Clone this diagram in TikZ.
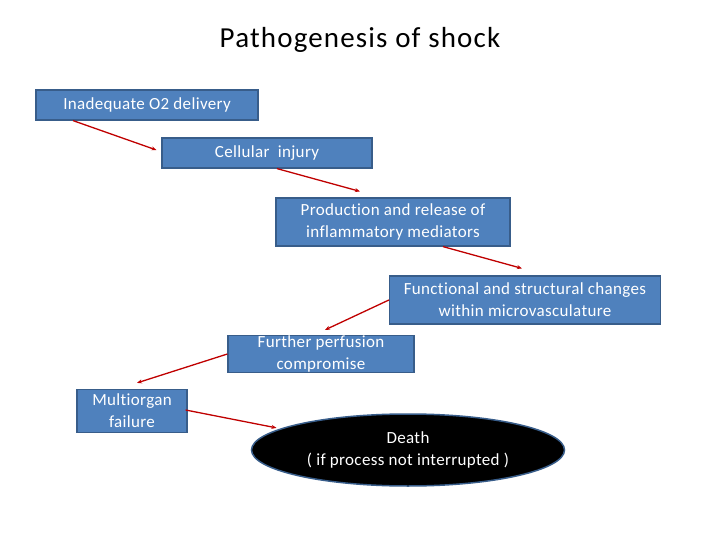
\documentclass[tikz,border=0pt]{standalone}
\usepackage{fontspec}
\setmainfont{Carlito}[Ligatures={NoCommon}]
\usetikzlibrary{shapes.geometric,arrows.meta}
\definecolor{boxfill}{HTML}{4F81BD}
\definecolor{boxline}{HTML}{385D8A}
\definecolor{arrred}{HTML}{C00000}
\begin{document}
\begin{tikzpicture}[x=1pt,y=-1pt,
  boxfont/.style={font=\fontsize{17}{22}\selectfont\addfontfeatures{LetterSpace=2}},
  box/.style={draw=boxline,fill=boxfill,line width=1.2pt,text=white,boxfont,align=center,inner sep=0pt},
  conn/.style={draw=arrred,line width=1.3pt,-{Stealth[length=5pt,width=4pt]}}]
\useasboundingbox[fill=white] (0,0) rectangle (720,540);
\node[font=\fontsize{29}{32}\selectfont\addfontfeatures{LetterSpace=4}] (title) at (360,40) {Pathogenesis of shock};
\node[box,minimum width=222pt,minimum height=30pt] (a) at (147,105) {Inadequate O2 delivery};
\node[box,minimum width=210pt,minimum height=30pt] (b) at (267,153) {Cellular\ \ injury};
\node[box,minimum width=234pt,minimum height=48pt] (c) at (393,222) {Production and release of\\inflammatory mediators};
\node[box,minimum width=271pt,minimum height=48pt] (d) at (525,300) {Functional and structural changes\\within microvasculature};
\node[box,minimum width=186pt,minimum height=37pt] (e) at (321,354) {Further perfusion\\compromise};
\node[box,minimum width=110pt,minimum height=43pt] (f) at (132,411) {Multiorgan\\failure};
\node[ellipse,draw=boxline,fill=black,line width=1.5pt,text=white,boxfont,align=center,inner sep=0pt,minimum width=313pt,minimum height=72pt] (g) at (408,450) {Death\\( if process not interrupted )};
\draw[conn] ([xshift=-74pt]a.south) -- ([xshift=-5pt,yshift=3pt]b.west);
\draw[conn] ([xshift=10pt]b.south) -- ([xshift=-33pt,yshift=6pt]c.north);
\draw[conn] ([xshift=50pt]c.south) -- ([xshift=-3pt,yshift=7pt]d.north);
\draw[conn] (d.west) -- ([xshift=4pt,yshift=5pt]e.north);
\draw[conn] (e.west) -- ([xshift=5pt,yshift=6pt]f.north);
\draw[conn] ([xshift=-2pt,yshift=1pt]f.east) -- ([xshift=-6pt]g.170);
\end{tikzpicture}
\end{document}
